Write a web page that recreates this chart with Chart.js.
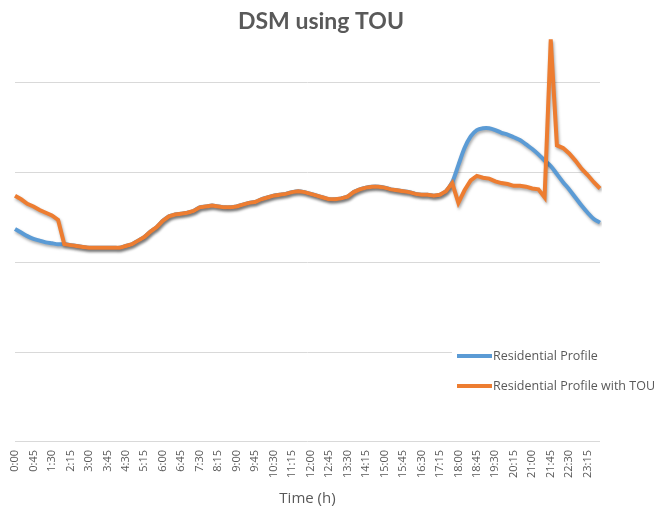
<!DOCTYPE html>
<html>
<head>
<meta charset="utf-8">
<script src="https://cdn.jsdelivr.net/npm/chart.js@4.4.0/dist/chart.umd.min.js"></script>
<style>
    body { margin: 0; background: #fff; }
    #wrap { width: 661px; height: 511px; position: relative; }
</style>
</head>
<body>
<div id="wrap"><canvas id="dsm-chart"></canvas></div>
<script>
// 15 minute time slots, 0:00 .. 23:45
const timeLabels = [];
for (let h = 0; h < 24; h++) {
    for (let m = 0; m < 60; m += 15) {
        timeLabels.push(h + ':' + (m < 10 ? '0' + m : m));
    }
}

const residentialProfile = [
    2.37, 2.33, 2.29, 2.26, 2.24, 2.22, 2.21, 2.20, 2.20, 2.19, 2.18, 2.17,
    2.16, 2.16, 2.16, 2.16, 2.16, 2.16, 2.18, 2.20, 2.24, 2.28, 2.34, 2.39,
    2.46, 2.51, 2.53, 2.54, 2.55, 2.57, 2.61, 2.62, 2.63, 2.62, 2.61, 2.61,
    2.62, 2.64, 2.66, 2.67, 2.70, 2.72, 2.74, 2.75, 2.76, 2.78, 2.79, 2.78,
    2.76, 2.74, 2.72, 2.70, 2.70, 2.71, 2.73, 2.78, 2.81, 2.83, 2.84, 2.84,
    2.83, 2.81, 2.80, 2.79, 2.78, 2.76, 2.75, 2.75, 2.74, 2.75, 2.79, 2.89,
    3.08, 3.27, 3.40, 3.47, 3.49, 3.49, 3.47, 3.44, 3.42, 3.39, 3.36, 3.31,
    3.26, 3.20, 3.13, 3.07, 2.98, 2.89, 2.81, 2.72, 2.63, 2.55, 2.48, 2.44
];

const residentialWithTou = [
    2.74, 2.70, 2.65, 2.62, 2.58, 2.55, 2.52, 2.47, 2.20, 2.19, 2.18, 2.17,
    2.16, 2.16, 2.16, 2.16, 2.16, 2.16, 2.18, 2.20, 2.24, 2.28, 2.34, 2.39,
    2.46, 2.51, 2.53, 2.54, 2.55, 2.57, 2.61, 2.62, 2.63, 2.62, 2.61, 2.61,
    2.62, 2.64, 2.66, 2.67, 2.70, 2.72, 2.74, 2.75, 2.76, 2.78, 2.79, 2.78,
    2.76, 2.74, 2.72, 2.70, 2.70, 2.71, 2.73, 2.78, 2.81, 2.83, 2.84, 2.84,
    2.83, 2.81, 2.80, 2.79, 2.78, 2.76, 2.75, 2.75, 2.74, 2.75, 2.79, 2.88,
    2.66, 2.80, 2.91, 2.96, 2.94, 2.93, 2.90, 2.88, 2.87, 2.85, 2.85, 2.84,
    2.82, 2.81, 2.72, 4.48, 3.30, 3.27, 3.21, 3.13, 3.04, 2.97, 2.89, 2.82
];

const gridValues = [0, 1, 2, 3, 4];

const chartTitle = 'DSM using TOU';
const seriesNames = ['Residential Profile', 'Residential Profile with TOU'];
const seriesColors = ['#5b9bd5', '#ed7d31'];

const textColor = '#595959';

// excel style soft shadow under the lines
const lineShadow = {
    id: 'lineShadow',
    beforeDatasetDraw(chart) {
        const ctx = chart.ctx;
        ctx.save();
        ctx.shadowColor = 'rgba(0,0,0,0.35)';
        ctx.shadowBlur = 3;
        ctx.shadowOffsetX = 1;
        ctx.shadowOffsetY = 2;
    },
    afterDatasetDraw(chart) {
        chart.ctx.restore();
    }
};

// title is a bit right of the plot centre in the original
const chartHeading = {
    id: 'chartHeading',
    afterDraw(chart) {
        const ctx = chart.ctx;
        ctx.save();
        ctx.font = 'bold 23px Lato';
        ctx.fillStyle = textColor;
        ctx.textAlign = 'center';
        ctx.textBaseline = 'middle';
        ctx.fillText(chartTitle, 321, 22);
        ctx.restore();
    }
};

// legend sits inside the plot, bottom right
const insideLegend = {
    id: 'insideLegend',
    afterDraw(chart) {
        const ctx = chart.ctx;
        const area = chart.chartArea;
        const x0 = area.right - 145;
        const rows = [area.bottom - 86, area.bottom - 56];
        ctx.save();
        ctx.fillStyle = '#fff';
        ctx.fillRect(x0 - 3, rows[0] - 12, chart.width - x0, 55);
        ctx.font = '12.5px "Open Sans"';
        ctx.textBaseline = 'middle';
        chart.data.datasets.forEach((ds, i) => {
            ctx.strokeStyle = ds.borderColor;
            ctx.lineWidth = 4;
            ctx.beginPath();
            ctx.moveTo(x0 + 2, rows[i]);
            ctx.lineTo(x0 + 37, rows[i]);
            ctx.stroke();
            ctx.fillStyle = textColor;
            ctx.fillText(ds.label, x0 + 38, rows[i]);
        });
        ctx.restore();
    }
};

document.addEventListener('DOMContentLoaded', function () {
    const ctx = document.getElementById('dsm-chart');
    new Chart(ctx, {
        type: 'line',
        data: {
            labels: timeLabels,
            datasets: [{
                label: seriesNames[0],
                data: residentialProfile,
                borderColor: seriesColors[0],
                borderWidth: 4,
                pointRadius: 0,
                tension: 0.3,
                order: 1
            }, {
                label: seriesNames[1],
                data: residentialWithTou,
                borderColor: seriesColors[1],
                borderWidth: 4,
                pointRadius: 0,
                tension: 0,
                order: 0
            }]
        },
        options: {
            responsive: true,
            maintainAspectRatio: false,
            animation: false,
            layout: { padding: { left: 15, right: 61, top: 33, bottom: 3 } },
            scales: {
                x: {
                    grid: { display: false, drawTicks: false },
                    border: { display: false },
                    ticks: {
                        autoSkip: false,
                        minRotation: 90,
                        maxRotation: 90,
                        padding: 8,
                        color: textColor,
                        font: { family: '"Open Sans"', size: 11 },
                        callback: function (value, index) {
                            return index % 3 === 0 ? timeLabels[index] : '';
                        }
                    },
                    title: {
                        display: true,
                        text: 'Time (h)',
                        color: textColor,
                        font: { family: '"Open Sans"', size: 15 },
                        padding: { top: 4, bottom: 0 }
                    }
                },
                y: {
                    min: 0,
                    max: 4.55,
                    afterBuildTicks: function (axis) {
                        axis.ticks = gridValues.map(v => ({ value: v }));
                    },
                    grid: { color: '#d9d9d9', drawTicks: false },
                    border: { display: false },
                    ticks: { display: false }
                }
            },
            plugins: {
                legend: { display: false },
                tooltip: { enabled: false },
                title: { display: false }
            }
        },
        plugins: [lineShadow, chartHeading, insideLegend]
    });
});
</script>
</body>
</html>
